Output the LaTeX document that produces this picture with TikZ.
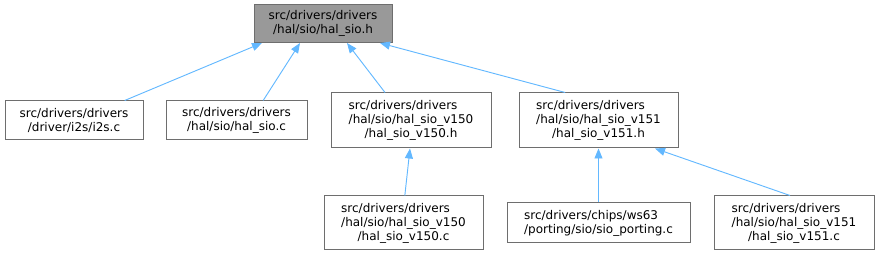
\documentclass[tikz,border=0pt]{standalone}
\usepackage{fontspec}
\setmainfont{DejaVu Sans}
\usepackage{calc}
\usetikzlibrary{arrows.meta}
\definecolor{dxEdge}{RGB}{99,184,255}
\definecolor{dxLine}{RGB}{110,110,110}
\definecolor{dxRoot}{RGB}{153,153,153}
% first line flush left against the widest line, last line centred
\newcommand{\leftpair}[3]{\makebox[\widthof{#2}][l]{#1}\\#2\\#3}

\begin{document}
\begin{tikzpicture}[x=0.75pt, y=-0.75pt,
    filebox/.style={draw=dxLine, fill=white, line width=0.75pt, inner sep=0pt,
      align=center, font=\fontsize{9}{10.6}\selectfont},
    rootbox/.style={filebox, fill=dxRoot},
    dep/.style={-{Triangle[length=7.5pt,width=6pt]}, draw=dxEdge, line width=0.7pt}
  ]
    \useasboundingbox (0,0) rectangle (878,256);
    % included header
    \node[rootbox, minimum width=103.5pt, minimum height=28.5pt] (halsioh) at (323,23.5)
      {src/drivers/drivers\\/hal/sio/hal\_sio.h};
    % files that include it
    \node[filebox, minimum width=103.5pt, minimum height=29.25pt] (i2sc) at (74,120.5)
      {src/drivers/drivers\\/driver/i2s/i2s.c};
    \node[filebox, minimum width=105.75pt, minimum height=29.25pt] (halsioc) at (236.5,120.5)
      {src/drivers/drivers\\/hal/sio/hal\_sio.c};
    \node[filebox, minimum width=120pt, minimum height=41.25pt] (vfiftyh) at (411,120.5)
      {\leftpair{src/drivers/drivers}{/hal/sio/hal\_sio\_v150}{/hal\_sio\_v150.h}};
    \node[filebox, minimum width=119.25pt, minimum height=41.25pt] (vfiftyoneh) at (598.5,120.5)
      {\leftpair{src/drivers/drivers}{/hal/sio/hal\_sio\_v151}{/hal\_sio\_v151.h}};
    \node[filebox, minimum width=119.25pt, minimum height=40.5pt] (vfiftyc) at (403.5,223)
      {\leftpair{src/drivers/drivers}{/hal/sio/hal\_sio\_v150}{/hal\_sio\_v150.c}};
    \node[filebox, minimum width=137.25pt, minimum height=30pt] (porting) at (598.5,223)
      {\makebox[\widthof{/porting/sio/sio\_porting.c}][l]{src/drivers/chips/ws63}\\/porting/sio/sio\_porting.c};
    \node[filebox, minimum width=120pt, minimum height=40.5pt] (vfiftyonec) at (794,223)
      {\leftpair{src/drivers/drivers}{/hal/sio/hal\_sio\_v151}{/hal\_sio\_v151.c}};

    \draw[dep] ([xshift=38pt]i2sc.north) -- ([xshift=-45.75pt]halsioh.south);
    \draw[dep] ([xshift=20pt]halsioc.north) -- ([xshift=-17.25pt]halsioh.south);
    \draw[dep] ([xshift=-19.5pt]vfiftyh.north) -- ([xshift=18pt]halsioh.south);
    \draw[dep] ([xshift=-25pt]vfiftyoneh.north) -- ([xshift=42.75pt]halsioh.south);
    \draw[dep] ([xshift=1pt]vfiftyc.north) -- ([xshift=-0.75pt]vfiftyh.south);
    \draw[dep] (porting.north) -- (vfiftyoneh.south);
    \draw[dep] ([xshift=-3pt]vfiftyonec.north) -- ([xshift=42.4pt]vfiftyoneh.south);
  \end{tikzpicture}
\end{document}
